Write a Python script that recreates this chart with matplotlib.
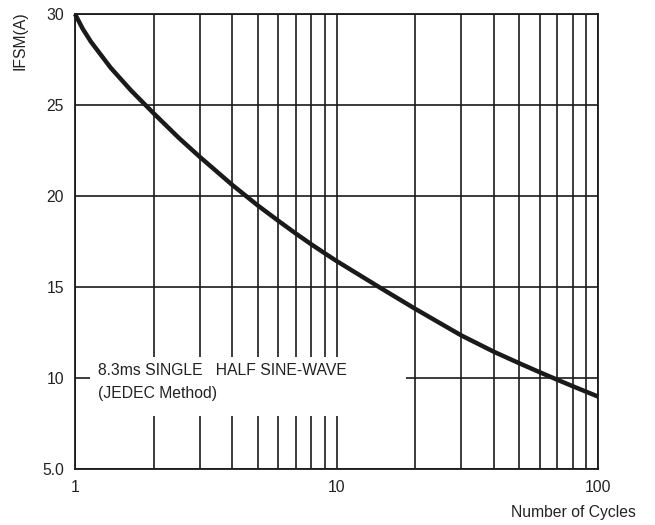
import numpy as np
import matplotlib.pyplot as plt
from matplotlib.patches import Rectangle
from matplotlib.ticker import FixedLocator, NullFormatter

plt.rcParams['font.family'] = ['Liberation Sans', 'DejaVu Sans']

# values
cycles = [1, 1.07, 1.15, 1.37, 1.64, 2, 2.5, 3, 4, 5, 6, 7, 8, 9, 10,
          15, 20, 30, 40, 50, 60, 70, 80, 90, 100]
ifsm = [30.0, 29.19, 28.48, 27.04, 25.79, 24.54, 23.18, 22.15, 20.60, 19.48,
        18.63, 17.93, 17.35, 16.86, 16.43, 14.88, 13.80, 12.34, 11.44, 10.81,
        10.31, 9.90, 9.55, 9.25, 8.98]

y_ticks = [5, 10, 15, 20, 25, 30]
y_labels = ['5.0', '10', '15', '20', '25', '30']
x_ticks = [1, 10, 100]
x_labels = ['1', '10', '100']
x_minor = [2, 3, 4, 5, 6, 7, 8, 9, 20, 30, 40, 50, 60, 70, 80, 90]

fs = 11.3

fig = plt.figure(figsize=(6.55, 5.25), dpi=100)
ax = fig.add_axes([75/655, 1 - 469/525, 523/655, 455/525])

ax.set_xscale('log')
ax.set_xlim(1, 100)
ax.set_ylim(5, 30)

ax.set_xticks(x_ticks)
ax.set_xticklabels(x_labels)
ax.xaxis.set_minor_locator(FixedLocator(x_minor))
ax.xaxis.set_minor_formatter(NullFormatter())
ax.set_yticks(y_ticks)
ax.set_yticklabels(y_labels)
ax.tick_params(which='both', length=0, labelsize=fs, colors='#222222')
ax.tick_params(axis='x', pad=8)
ax.tick_params(axis='y', pad=8)

ax.set_axisbelow(True)
ax.grid(which='both', color='#1a1a1a', linewidth=1.2)
for s in ax.spines.values():
    s.set_linewidth(1.3)
    s.set_color('#1a1a1a')

# white label box that interrupts the grid
ax.add_patch(Rectangle((0.029, 0.1165), 0.604, 0.13, transform=ax.transAxes,
                       facecolor='white', edgecolor='none', zorder=1))
ax.text(0.044, 0.2154, '8.3ms SINGLE   HALF SINE-WAVE', transform=ax.transAxes,
        fontsize=fs, va='center', ha='left', color='#222222', zorder=3)
ax.text(0.044, 0.167, '(JEDEC Method)', transform=ax.transAxes,
        fontsize=fs, va='center', ha='left', color='#222222', zorder=3)

ax.plot(cycles, ifsm, color='#1a1a1a', linewidth=3.2, solid_capstyle='butt',
        solid_joinstyle='round', zorder=4, clip_on=False)

fig.text(20/655, 1 - 11/525, 'IFSM(A)', rotation=90, ha='center', va='top',
         fontsize=fs, color='#222222')
fig.text(636/655, 1 - 512/525, 'Number of Cycles', ha='right', va='center',
         fontsize=fs, color='#222222')

fig.savefig('out.png', dpi=100)
